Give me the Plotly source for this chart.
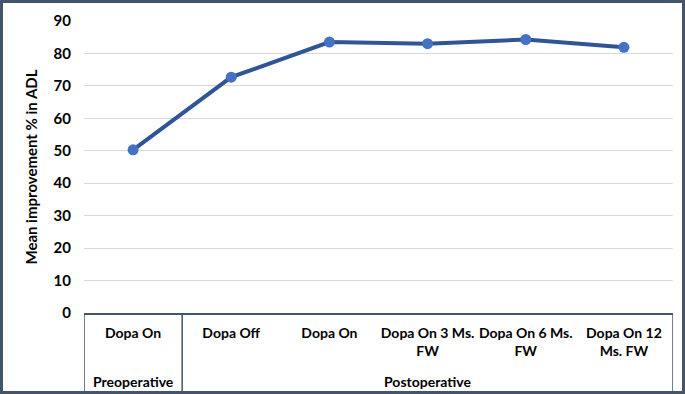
import plotly.graph_objects as go

categories = ["Dopa On", "Dopa Off", "Dopa On", "Dopa On 3 Ms.<br>FW", "Dopa On 6 Ms.<br>FW", "Dopa On 12<br>Ms. FW"]
groups = ["Preoperative", "Postoperative"]
group_sizes = [1, 5]
values = [50.3, 72.7, 83.5, 83.0, 84.3, 81.9]
y_ticks = [0, 10, 20, 30, 40, 50, 60, 70, 80, 90]

FONT = "Lato, Carlito, 'Liberation Sans Narrow', sans-serif"
SLATE = "#44546A"

W, H = 685, 394
ml, mr, mt, mb = 84, 12, 21, 81
pw, ph = W - ml - mr, H - mt - mb

x = list(range(len(categories)))

fig = go.Figure()
fig.add_trace(go.Scatter(
    x=x, y=values, mode="lines+markers",
    line=dict(color="#2F5597", width=4),
    marker=dict(color="#4472C4", size=11),
    showlegend=False,
))

shapes = []
edges = [-0.5]
acc = -0.5
for s in group_sizes:
    acc += s
    edges.append(acc)
for e in edges:
    shapes.append(dict(type="line", xref="x", yref="paper", x0=e, x1=e,
                       y0=0, y1=-(391 - (mt + ph)) / ph,
                       line=dict(color=SLATE, width=1.5)))
shapes.append(dict(type="rect", xref="paper", yref="paper",
                   x0=(1.5 - ml) / pw, x1=(W - 1.5 - ml) / pw,
                   y0=-(H - 1.5 - mt - ph) / ph, y1=1 + (mt - 1.5) / ph,
                   line=dict(color=SLATE, width=3), fillcolor="rgba(0,0,0,0)", layer="below"))

annotations = []
start = -0.5
for g, s in zip(groups, group_sizes):
    annotations.append(dict(text="<b>%s</b>" % g, x=start + s / 2, xref="x",
                            y=-(381 - (mt + ph)) / ph, yref="paper",
                            showarrow=False, yanchor="middle",
                            font=dict(family=FONT, size=14, color="#000")))
    start += s

fig.update_layout(
    width=W, height=H,
    margin=dict(l=ml, r=mr, t=mt, b=mb),
    paper_bgcolor="white", plot_bgcolor="white",
    font=dict(family=FONT, color="#000"),
    xaxis=dict(range=[-0.5, len(categories) - 0.5], tickvals=x,
               ticktext=["<b>%s</b>" % c for c in categories],
               tickfont=dict(size=14), showgrid=False, zeroline=False,
               showline=True, linecolor=SLATE, linewidth=1.5, ticks="",
               ticklabelstandoff=6),
    yaxis=dict(range=[0, 90], tickvals=y_ticks,
               ticktext=["<b>%d</b>" % v for v in y_ticks],
               tickfont=dict(size=15), showgrid=True, gridcolor="#D9D9D9",
               gridwidth=1, zeroline=False, ticks="", ticklabelstandoff=12,
               title=dict(text="<b>Mean improvement % in ADL</b>",
                          font=dict(size=15), standoff=12)),
    shapes=shapes, annotations=annotations,
)

fig.write_html("out.html", config={"displayModeBar": False},
               post_script="document.body.style.margin='0';document.body.style.padding='0';document.body.style.overflow='hidden';")
